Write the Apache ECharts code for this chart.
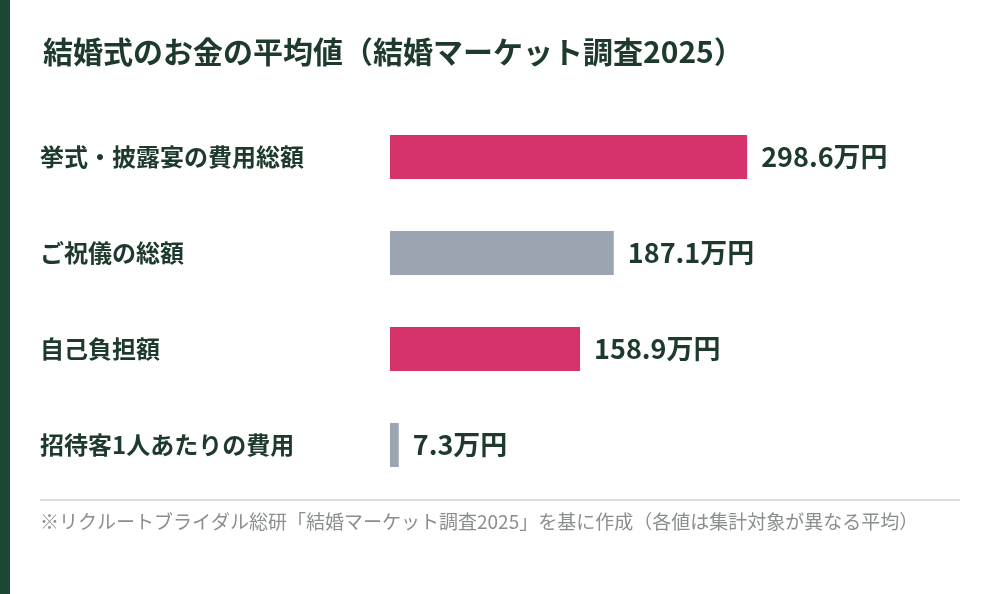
<!DOCTYPE html>
<html><head><meta charset="utf-8">
<script src="https://cdn.jsdelivr.net/npm/echarts@6/dist/echarts.min.js"></script>
<style>html,body{margin:0;padding:0;background:#fff}#c{width:1000px;height:594px}</style>
</head><body><div id="c"></div>
<script>
const categories = ['挙式・披露宴の費用総額','ご祝儀の総額','自己負担額','招待客1人あたりの費用'];
const values = [298.6, 187.1, 158.9, 7.3];
const colors = ['#d6336c','#9ba5b1','#d6336c','#9ba5b1'];
const chart = echarts.init(document.getElementById('c'));
const font = '"Noto Sans CJK JP", sans-serif';
const txt = '#1d3a2c';
chart.setOption({
  animation:false,
  textStyle:{fontFamily:font},
  title:{text:'結婚式のお金の平均値（結婚マーケット調査2025）',left:38,top:32,textStyle:{fontFamily:font,fontSize:30,fontWeight:'bold',color:txt}},
  graphic:[
    {type:'rect',shape:{x:0,y:0,width:10,height:594},style:{fill:'#1d4633'}},
    {type:'line',shape:{x1:40,y1:500,x2:960,y2:500},style:{stroke:'#d5d5cc',lineWidth:1.5}},
    {type:'text',left:40,top:512,style:{text:'※リクルートブライダル総研「結婚マーケット調査2025」を基に作成（各値は集計対象が異なる平均）',font:'19px '+font,fill:'#8a8f8c'}}
  ],
  grid:{left:390,right:12,top:109,bottom:101},
  xAxis:{type:'value',min:0,max:500,show:false},
  yAxis:{type:'category',inverse:true,data:categories,axisLine:{show:false},axisTick:{show:false},
    axisLabel:{align:'left',margin:350,fontSize:24,fontWeight:'bold',color:txt,fontFamily:font}},
  series:[{type:'bar',barWidth:44,
    data:values.map((v,i)=>({value:v,itemStyle:{color:colors[i]}})),
    label:{show:true,position:'right',distance:14,formatter:p=>p.value+'万円',fontSize:27,fontWeight:'bold',color:txt,fontFamily:font}}]
});
</script></body></html>
